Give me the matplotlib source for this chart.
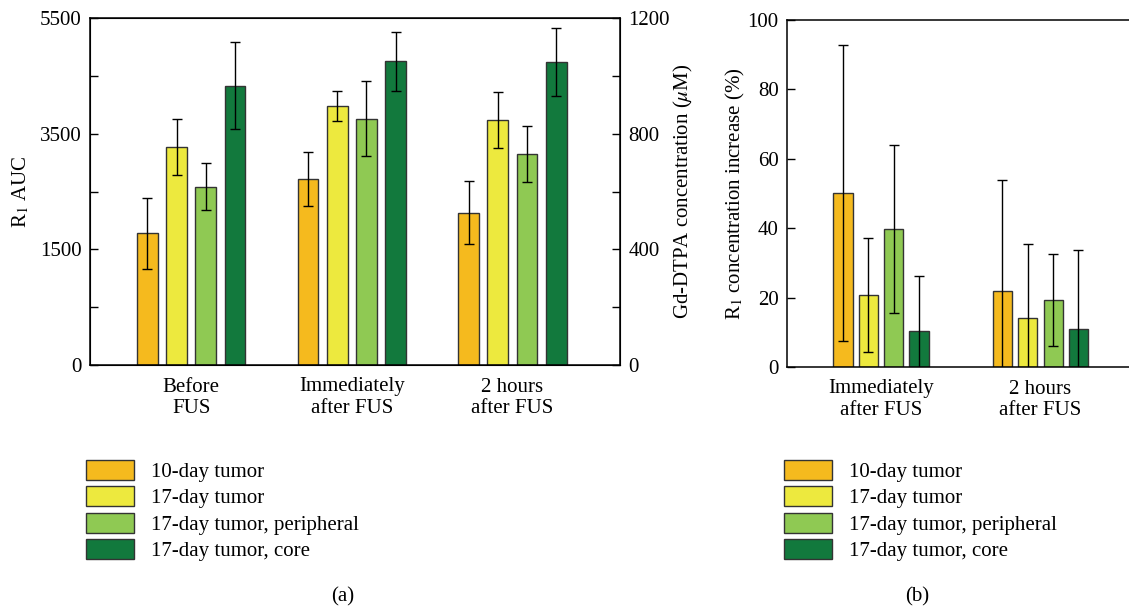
import matplotlib
matplotlib.use('Agg')
import matplotlib.pyplot as plt
import numpy as np

plt.rcParams['font.family'] = ['Liberation Serif', 'DejaVu Serif']
plt.rcParams['mathtext.fontset'] = 'stix'
plt.rcParams['font.size'] = 15

# series / groups
series = ['10-day tumor', '17-day tumor', '17-day tumor, peripheral', '17-day tumor, core']
colors = ['#F5BA1E', '#EDE93E', '#8FC953', '#12793D']

groups_a = ['Before\nFUS', 'Immediately\nafter FUS', '2 hours\nafter FUS']
# panel (a): Gd-DTPA concentration (uM), one list per series across groups
conc_10d = [455, 644, 527]
conc_17d = [753, 896, 847]
conc_17p = [617, 852, 729]
conc_17c = [966, 1050, 1047]
err_10d = [124, 94, 109]
err_17d = [96, 52, 96]
err_17p = [80, 130, 96]
err_17c = [150, 103, 118]

groups_b = ['Immediately\nafter FUS', '2 hours\nafter FUS']
# panel (b): R1 concentration increase (%)
inc_10d = [50.2, 21.9]
inc_17d = [20.8, 14.2]
inc_17p = [39.8, 19.4]
inc_17c = [10.3, 11.0]
ierr_10d = [42.6, 32.1]
ierr_17d = [16.4, 21.3]
ierr_17p = [24.2, 13.3]
ierr_17c = [16.0, 22.8]

auc_ticks = [-500, 1500, 3500, 5500]
auc_labels = ['0', '1500', '3500', '5500']

W, H = 1129, 611
fig = plt.figure(figsize=(W / 100, H / 100), dpi=100)


def px(l, t, r, b):
  return [l / W, 1 - b / H, (r - l) / W, (b - t) / H]


def draw_bars(ax, vals, errs, width, step):
  handles = []
  x = np.arange(len(vals[0]))
  for i, (v, e, c) in enumerate(zip(vals, errs, colors)):
    pos = x + (i - 1.5) * step
    h = ax.bar(pos, v, width, color=c, edgecolor='#333333', linewidth=1.0, zorder=2)
    ax.errorbar(pos, v, yerr=e, fmt='none', ecolor='black', elinewidth=1.0,
                capsize=3.5, capthick=1.0, zorder=3)
    handles.append(h)
  return handles


def add_legend(handles, x, y):
  fig.legend(handles, series, loc='upper left', bbox_to_anchor=(x / W, 1 - y / H),
             frameon=False, handlelength=2.3, handleheight=1.1, handletextpad=0.8,
             labelspacing=0.2, borderaxespad=0, borderpad=0)


# ---- panel (a)
ax1 = fig.add_axes(px(90, 18, 620, 365))
ax1b = ax1.twinx()
handles = draw_bars(ax1,
                    [conc_10d, conc_17d, conc_17p, conc_17c],
                    [err_10d, err_17d, err_17p, err_17c],
                    0.13, 0.182)
ax1.set_xlim(-0.63, 2.67)
ax1.set_ylim(0, 1200)
ax1.set_xticks(range(len(groups_a)))
ax1.set_xticklabels(groups_a, linespacing=1.2)
ax1.tick_params(axis='x', length=0, pad=9)
# concentration scale on the right
ax1.yaxis.tick_right()
ax1.yaxis.set_label_position('right')
ax1.set_yticks([0, 400, 800, 1200])
ax1.set_yticks([200, 600, 1000], minor=True)
ax1.tick_params(axis='y', which='both', direction='in', length=6, width=1, pad=6)
ax1.set_ylabel(r'Gd-DTPA concentration ($\mu$M)')
ax1.yaxis.set_label_coords(1.098, 0.5)
for s in ax1.spines.values():
  s.set_linewidth(1.1)

# AUC scale on the left
ax1b.yaxis.tick_left()
ax1b.yaxis.set_label_position('left')
ax1b.set_ylim(-500, 5500)
ax1b.set_yticks(auc_ticks)
ax1b.set_yticklabels(auc_labels)
ax1b.set_yticks([500, 2500, 4500], minor=True)
ax1b.tick_params(axis='y', which='both', direction='in', length=6, width=1, pad=6)
ax1b.set_ylabel(r'R$_1$ AUC', labelpad=6)

add_legend(handles, 86, 460)
fig.text(343 / W, 1 - 597 / H, '(a)', ha='center', va='center')

# ---- panel (b)
ax2 = fig.add_axes(px(787, 20, 1140, 367))
handles2 = draw_bars(ax2,
                     [inc_10d, inc_17d, inc_17p, inc_17c],
                     [ierr_10d, ierr_17d, ierr_17p, ierr_17c],
                     0.12, 0.159)
ax2.set_xlim(-0.59, 1.625)
ax2.set_ylim(0, 100)
ax2.set_xticks(range(len(groups_b)))
ax2.set_xticklabels(groups_b, linespacing=1.2)
ax2.tick_params(axis='x', length=0, pad=9)
ax2.set_yticks(np.arange(0, 101, 20))
ax2.tick_params(axis='y', direction='in', length=6, width=1, pad=6)
ax2.set_ylabel(r'R$_1$ concentration increase (%)')
ax2.yaxis.set_label_coords(-0.112, 0.5)
ax2.spines['right'].set_visible(False)
for s in ax2.spines.values():
  s.set_linewidth(1.1)

add_legend(handles2, 784, 460)
fig.text(917 / W, 1 - 597 / H, '(b)', ha='center', va='center')

fig.savefig('out.png', dpi=100)
